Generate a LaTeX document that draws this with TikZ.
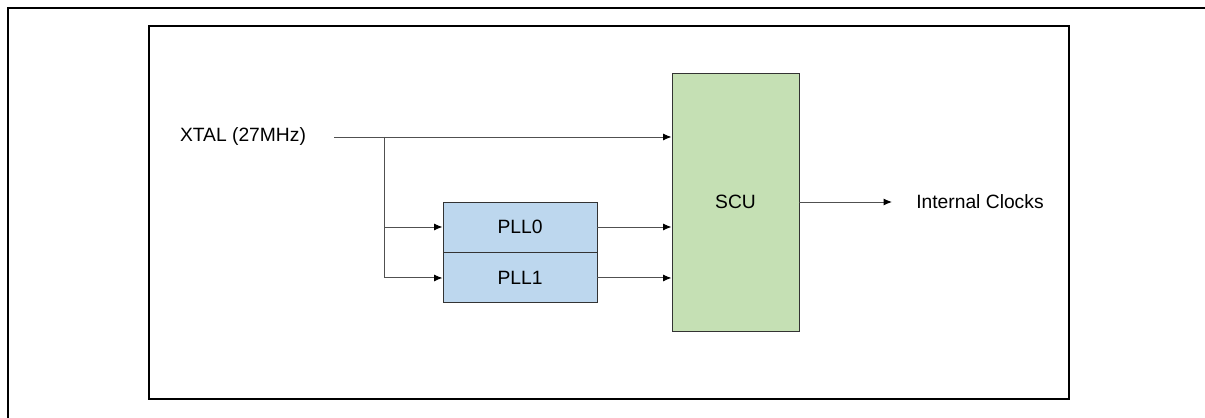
\documentclass[tikz,border=0pt]{standalone}
\usepackage{fontspec}
\setmainfont{Liberation Sans}
\usetikzlibrary{positioning,arrows.meta}
\definecolor{pllblue}{RGB}{189,215,238}
\definecolor{scugreen}{RGB}{197,224,180}
\definecolor{wire}{RGB}{80,80,80}
\tikzset{
  frame/.style={line width=1.5pt},
  blk/.style={draw=black!80,line width=0.7pt,inner sep=0pt,
    font=\fontsize{13.7}{16}\selectfont},
  sig/.style={draw=wire,line width=0.7pt,-{Latex[length=6pt,width=5pt,black]}},
  lbl/.style={inner sep=0pt,font=\fontsize{13.7}{16}\selectfont}
}
\begin{document}
\begin{tikzpicture}
  \useasboundingbox (0,0) rectangle (30.125,10.45);
  % frames
  \draw[frame] (0.2,0) -- (0.2,10.25) -- (30.125,10.25);
  \draw[frame] (3.725,0.475) rectangle (26.725,9.8);
  % blocks
  \node[blk,fill=scugreen,minimum width=3.175cm,minimum height=6.45cm] (scu) at (18.3875,5.4) {SCU};
  \node[blk,fill=pllblue,minimum width=3.85cm,minimum height=1.25cm] (pll0) at (13,4.775) {PLL0};
  \node[blk,fill=pllblue,minimum width=3.85cm,minimum height=1.25cm,below=0pt of pll0] (pll1) {PLL1};
  % labels
  \node[lbl] (xtal) at (6.075,7.025) {XTAL (27MHz)};
  \node[lbl,anchor=west] (clk) at (22.9,5.4) {Internal Clocks};
  \coordinate (xin) at (8.35,7.025);
  \coordinate (br) at (9.6,7.025);
  \coordinate (clkout) at (22.3,5.4);
  % wires
  \draw[sig] (xin) -- (xin -| scu.west);
  \draw[draw=wire,line width=0.7pt] (br) -- (br |- pll1);
  \draw[sig] (br |- pll0) -- (pll0.west);
  \draw[sig] (br |- pll1) -- (pll1.west);
  \draw[sig] (pll0.east) -- (pll0.east -| scu.west);
  \draw[sig] (pll1.east) -- (pll1.east -| scu.west);
  \draw[sig] (scu.east) -- (clkout);
\end{tikzpicture}
\end{document}
